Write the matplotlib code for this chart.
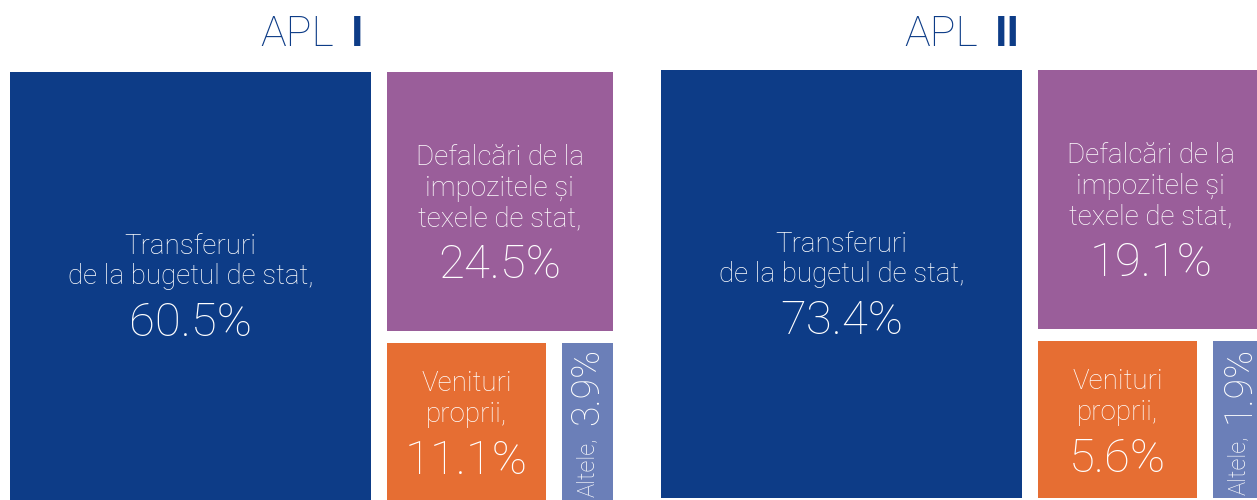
import matplotlib
matplotlib.use("Agg")
import matplotlib.pyplot as plt
from matplotlib.patches import Rectangle
from matplotlib.offsetbox import TextArea, VPacker, HPacker, AnnotationBbox

plt.rcParams['font.family'] = ['Roboto', 'DejaVu Sans']

# data
titles = ["I", "II"]
categories = ["Transferuri\nde la bugetul de stat,",
              "Defalcări de la\nimpozitele și\ntexele de stat,",
              "Venituri\nproprii,",
              "Altele,"]
apl1 = [60.5, 24.5, 11.1, 3.9]
apl2 = [73.4, 19.1, 5.6, 1.9]
colors = ["#0d3c87", "#9a5e9a", "#e66e33", "#6b7fb8"]
# small vertical nudges of the label blocks (px), as placed in the original
label_dy = [3, 14, 5]


def layout(shares, x0, y0, W, H, gx=16, gy=12):
    # slice layout: big block on the left, the rest split top / bottom-left / bottom-right
    tot = sum(shares)
    xs = x0 + W * shares[0] / tot + 4
    rects = [(x0, y0, xs - gx / 2 - x0, H)]
    rest = shares[1:]
    rx = xs + gx / 2
    rw = x0 + W - rx
    ys = y0 + H * rest[0] / sum(rest)
    rects.append((rx, y0, rw, ys - gy / 2 - y0))
    by = ys + gy / 2
    bh = y0 + H - by
    xb = rx + rw * rest[1] / (rest[1] + rest[2])
    rects.append((rx, by, xb - gx / 2 - rx, bh))
    rects.append((xb + gx / 2, by, x0 + W - xb - gx / 2, bh))
    return rects


fig = plt.figure(figsize=(12.57, 5), dpi=100)
ax = fig.add_axes([0, 0, 1, 1])
ax.set_xlim(0, 1257)
ax.set_ylim(500, 0)
ax.axis('off')

# both panels share the layout of APL I, as in the original design
panels = [(10, 72, apl1), (661, 70, apl2)]
W, H = 603, 428
for (x0, y0, vals), t in zip(panels, titles):
    rects = layout(apl1, x0, y0, W, H)
    for i, (x, y, w, h) in enumerate(rects):
        ax.add_patch(Rectangle((x, y), w, h, color=colors[i], lw=0))
        cx, cy = x + w / 2, y + h / 2
        pct = f"{vals[i]:.1f}%"
        if i < 3:
            name = TextArea(categories[i], textprops=dict(color='white', size=20, weight='light',
                                                          ha='center', linespacing=1.16))
            num = TextArea(pct, textprops=dict(color='white', size=34, weight='light'))
            box = VPacker(children=[name, num], align='center', pad=0, sep=8)
            ax.add_artist(AnnotationBbox(box, (cx, cy + label_dy[i]), frameon=False,
                                         box_alignment=(0.5, 0.5)))
        else:
            ax.text(cx, y + h - 3, categories[i], rotation=90, ha='center', va='bottom',
                    color='white', size=17, weight='light')
            ax.text(cx, y + 4, pct, rotation=90, ha='center', va='top',
                    color='white', size=27, weight='light')

    head = HPacker(children=[TextArea("APL", textprops=dict(color='#0d3c87', size=31, weight='light')),
                             TextArea(t, textprops=dict(color='#0d3c87', size=31, weight='bold'))],
                   align='baseline', pad=0, sep=12)
    ax.add_artist(AnnotationBbox(head, (x0 + W / 2, 35), frameon=False, box_alignment=(0.5, 0.5)))

fig.savefig("out.png", dpi=100)
